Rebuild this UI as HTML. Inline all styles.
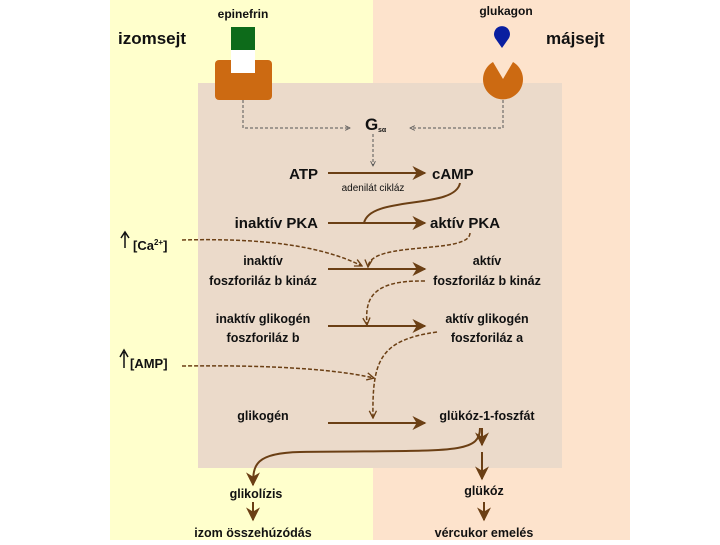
<!DOCTYPE html>
<html><head><style>
body{margin:0;width:720px;height:540px;background:#fff;overflow:hidden}
svg text{font-family:"Liberation Sans",sans-serif;font-weight:bold;fill:#111}
</style></head><body>
<svg width="720" height="540" viewBox="0 0 720 540">
<defs>
<marker id="a" viewBox="0 0 10 10" refX="9" refY="5" markerWidth="7" markerHeight="7" orient="auto"><path d="M0,0L10,5L0,10L3,5z" fill="#6b3f14"/></marker>
<marker id="d" viewBox="0 0 10 10" refX="9" refY="5" markerWidth="6" markerHeight="6" orient="auto"><path d="M1,1L9,5L1,9" fill="none" stroke="#6b3f14" stroke-width="1.5"/></marker>
<marker id="g" viewBox="0 0 10 10" refX="9" refY="5" markerWidth="6" markerHeight="6" orient="auto"><path d="M1,1L9,5L1,9" fill="none" stroke="#555" stroke-width="1.5"/></marker>
</defs>
<rect x="110" y="0" width="263" height="540" fill="#ffffcc"/>
<rect x="373" y="0" width="257" height="540" fill="#fde3cc"/>
<rect x="198" y="83" width="364" height="385" fill="#ebdaca"/>
<text x="118" y="44" font-size="17">izomsejt</text>
<text x="546" y="44" font-size="17">májsejt</text>
<text x="243" y="18" font-size="12" text-anchor="middle">epinefrin</text>
<text x="506" y="15" font-size="12" text-anchor="middle">glukagon</text>
<rect x="231" y="27" width="24" height="23" fill="#0d6b1a"/>
<rect x="215" y="60" width="57" height="40" rx="4" fill="#cc6a12"/>
<rect x="231" y="50" width="24" height="23" fill="#fff"/>
<path d="M502,48 L495,38 A8,8 0 1 1 509,38 Z" fill="#0a1fa0"/>
<path d="M503,79 L493,62 A20,20 0 1 0 513,62 Z" fill="#cc6a12"/>
<g fill="none" stroke="#555" stroke-width="1" stroke-dasharray="3,2">
<path d="M243,100V128H350" marker-end="url(#g)"/>
<path d="M503,100V128H410" marker-end="url(#g)"/>
<path d="M373,134V166" marker-end="url(#g)"/>
</g>
<text x="365" y="130" font-size="17">G</text><text x="378" y="132" font-size="7" font-weight="normal">sα</text>
<g font-size="15">
<text x="318" y="179" text-anchor="end">ATP</text>
<text x="432" y="179">cAMP</text>
<text x="318" y="228" text-anchor="end">inaktív PKA</text>
<text x="430" y="228">aktív PKA</text>
</g>
<text x="373" y="191" font-size="10" font-weight="normal" text-anchor="middle" style="font-weight:normal">adenilát cikláz</text>
<g font-size="12.5" text-anchor="middle">
<text x="263" y="265">inaktív</text><text x="263" y="285">foszforiláz b kináz</text>
<text x="487" y="265">aktív</text><text x="487" y="285">foszforiláz b kináz</text>
<text x="263" y="323">inaktív glikogén</text><text x="263" y="342">foszforiláz b</text>
<text x="487" y="323">aktív glikogén</text><text x="487" y="342">foszforiláz a</text>
<text x="263" y="420">glikogén</text><text x="487" y="420">glükóz-1-foszfát</text>
<text x="484" y="495">glükóz</text><text x="256" y="498">glikolízis</text>
<text x="253" y="537">izom összehúzódás</text><text x="484" y="537">vércukor emelés</text>
</g>
<text x="133" y="250" font-size="13">[Ca<tspan font-size="8" dy="-5">2+</tspan><tspan dy="5">]</tspan></text>
<text x="130" y="368" font-size="13">[AMP]</text>
<g fill="none" stroke="#6b3f14" stroke-width="2">
<path d="M328,173H425" marker-end="url(#a)"/>
<path d="M328,223H425" marker-end="url(#a)"/>
<path d="M328,269H425" marker-end="url(#a)"/>
<path d="M328,326H425" marker-end="url(#a)"/>
<path d="M328,423H425" marker-end="url(#a)"/>
<path d="M460,183C455,210 370,195 364,223"/>
<path d="M480,428C480,455 450,450 300,452C255,453 253,465 253,485" marker-end="url(#a)"/>
<path d="M482,428V445" marker-end="url(#a)"/>
<path d="M482,452V479" marker-end="url(#a)"/>
<path d="M253,502V520" marker-end="url(#a)"/>
<path d="M484,502V520" marker-end="url(#a)"/>
<path d="M125,248V233M121,238L125,232L129,238" stroke="#111" stroke-width="1.5"/>
<path d="M124,368V352M120,357L124,350L128,357" stroke="#111" stroke-width="1.5"/>
</g>
<g fill="none" stroke="#6b3f14" stroke-width="1.5" stroke-dasharray="4,2">
<path d="M182,240C260,238 320,245 362,266" marker-end="url(#d)"/>
<path d="M470,233C470,255 370,240 368,267" marker-end="url(#d)"/>
<path d="M425,281C370,280 365,300 367,325" marker-end="url(#d)"/>
<path d="M182,366C260,365 330,368 374,378" marker-end="url(#d)"/>
<path d="M437,332C380,340 372,360 373,418" marker-end="url(#d)"/>
</g>
</svg>
</body></html>
